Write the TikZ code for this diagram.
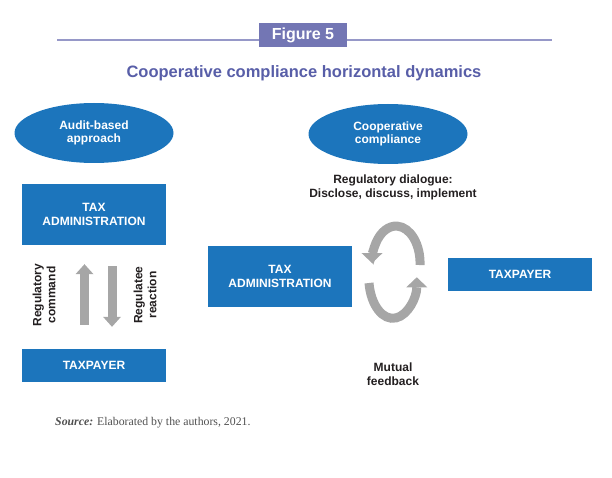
\documentclass[tikz,border=0pt]{standalone}
\usepackage{fontspec}
\setmainfont{Liberation Sans}
\newfontfamily\sourcefont{Liberation Serif}
\usetikzlibrary{arrows.meta,shapes.geometric}
\definecolor{boxblue}{RGB}{28,117,188}
\definecolor{headpurple}{RGB}{115,118,180}
\definecolor{linepurple}{RGB}{150,152,200}
\definecolor{titleblue}{RGB}{88,94,168}
\definecolor{arrowgray}{RGB}{166,166,166}
\definecolor{textdark}{RGB}{35,31,32}
\definecolor{sourcegray}{RGB}{80,80,80}
\begin{document}
\begin{tikzpicture}[x=1pt,y=-1pt,
    box/.style={fill=boxblue,text=white,font=\fontsize{12}{13.5}\selectfont\bfseries,align=center,minimum width=144pt,inner sep=0pt},
    oval/.style={ellipse,fill=boxblue,text=white,font=\fontsize{12}{13.5}\selectfont\bfseries,align=center,minimum width=159pt,minimum height=60pt,inner sep=0pt},
    lbl/.style={text=textdark,font=\fontsize{12}{14}\selectfont\bfseries,align=center,inner sep=0pt},
    blockarrow/.style={draw=arrowgray,line width=9pt,-{Triangle[length=10pt,width=18pt,line width=0pt]}},
    looparrow/.style={draw=arrowgray,line width=9pt,-{Triangle[length=10pt,width=21pt,line width=0pt]}}]
    \useasboundingbox (0,0) rectangle (612,478);
    \draw[linepurple,line width=1.5pt] (57,40) -- (552,40);
    \node[fill=headpurple,text=white,font=\fontsize{16}{18}\selectfont\bfseries,minimum width=88pt,minimum height=24pt,inner sep=0pt] (fig) at (303,35) {Figure 5};
    \node[text=titleblue,font=\fontsize{16.5}{18}\selectfont\bfseries,inner sep=0pt] (title) at (304,73) {Cooperative compliance horizontal dynamics};
    \node[oval] (audit) at (94,133) {Audit-based\\approach};
    \node[oval] (coop) at (388,134) {Cooperative\\compliance};
    \node[box,minimum height=61pt] (taxL) at (94,214.5) {TAX\\ADMINISTRATION};
    \node[box,minimum height=33pt] (payL) at (94,365.5) {TAXPAYER};
    \node[box,minimum height=61pt] (taxR) at (280,276.5) {TAX\\ADMINISTRATION};
    \node[box,minimum height=33pt] (payR) at (520,274.5) {TAXPAYER};
    \draw[blockarrow,shorten <=24pt,shorten >=19pt] ([xshift=-9.5pt]payL.north) -- ([xshift=-9.5pt]taxL.south);
    \draw[blockarrow,shorten <=21pt,shorten >=22pt] ([xshift=18pt]taxL.south) -- ([xshift=18pt]payL.north);
    \node[lbl,rotate=90] (command) at (44,295) {Regulatory\\command};
    \node[lbl,rotate=90] (reaction) at (145,295) {Regulatee\\reaction};
    \node[lbl] (dialogue) at (393,187) {Regulatory dialogue:\\Disclose, discuss, implement};
    \node[lbl] (mutual) at (393,374) {Mutual\\feedback};
    \draw[looparrow] (420,265) arc[start angle=3,end angle=-180,x radius=24,y radius=37];
    \draw[looparrow] (369,283) arc[start angle=-188,end angle=-360,x radius=24,y radius=41];
    \node[anchor=base west,inner sep=0pt,text=sourcegray,font=\sourcefont\fontsize{11.8}{13}\selectfont] (source) at (55,425) {\textbf{\textit{Source:}} Elaborated by the authors, 2021.};
\end{tikzpicture}
\end{document}
